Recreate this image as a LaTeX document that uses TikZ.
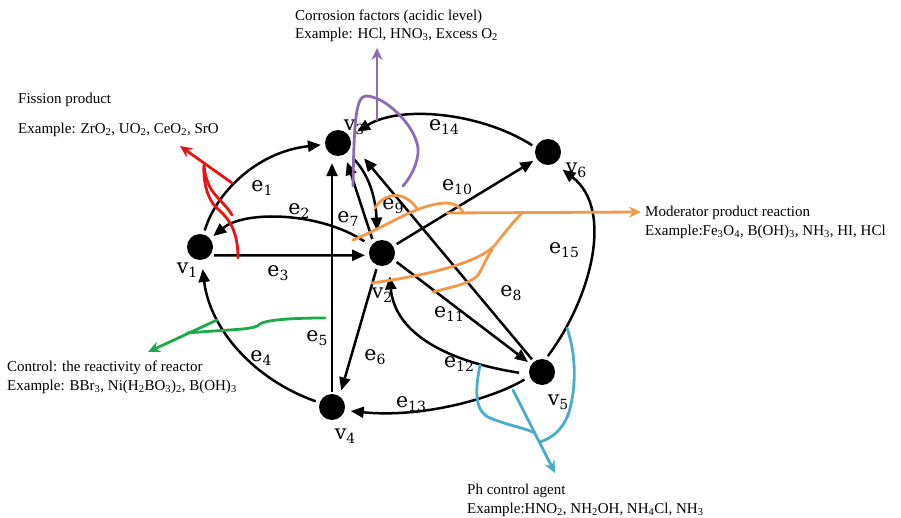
\documentclass[tikz,border=0pt]{standalone}
\usepackage{fontspec}
\setmainfont{Liberation Serif}
\newfontfamily\labfont{DejaVu Serif}
\usetikzlibrary{arrows.meta,calc}
\definecolor{cred}{RGB}{232,20,20}
\definecolor{cpur}{RGB}{142,108,180}
\definecolor{cora}{RGB}{242,152,72}
\definecolor{cgrn}{RGB}{26,170,74}
\definecolor{cblu}{RGB}{72,172,204}
\newcommand{\elab}[2]{{\labfont\fontsize{20.5}{22}\selectfont #1\raisebox{-0.35ex}{\fontsize{14}{15}\selectfont #2}}}
\newcommand{\chs}[1]{\textsubscript{#1}}
\begin{document}
\begin{tikzpicture}[x=1pt,y=-1pt,
  vert/.style={circle,fill=black,minimum size=26pt,inner sep=0pt},
  link/.style={line width=2.5pt,-{Triangle[length=13pt,width=11pt]},shorten >=4pt,shorten <=4pt},
  lab/.style={inner sep=0pt},
  ann/.style={line width=2.8pt,line cap=round,line join=round},
  annarr/.style={ann,-{Stealth[length=12pt,width=11pt]}},
  txt/.style={anchor=west,inner sep=0pt,font=\fontsize{15}{17}\selectfont}]
\useasboundingbox (0,0) rectangle (901,518);
\fill[white] (0,0) rectangle (901,518);
% vertices
\node[vert] (v1) at (200,247) {};
\node[vert] (v3) at (338,143) {};
\node[vert] (v6) at (548,152) {};
\node[vert] (v2) at (382,253) {};
\node[vert] (v4) at (332,407) {};
\node[vert] (v5) at (542,372) {};
% edges
\draw[link] (v1) .. controls (215,195) and (255,152) .. (v3);
\draw[link,shorten <=8pt] (v2) .. controls (320,212) and (245,210) .. (v1);
\draw[link] (v1.-40) -- (v2.190);
\draw[link,shorten >=9pt] (v4) .. controls (255,380) and (210,330) .. (v1);
\draw[link,shorten >=7pt,shorten <=2pt] (v4.north) -- (v4.north |- v3.south);
\draw[link,shorten >=6pt] (v2.250) -- (v4.55);
\draw[link,shorten >=8pt] (v2.130) -- (v3.-60);
\draw[link,shorten <=10pt,shorten >=10pt] (v3.-45) .. controls (372,178) and (376,205) .. (v2.110);
\draw[link,shorten >=20pt,shorten <=3pt] (v5.128) -- (v3.0);
\draw[link] (v2) -- (v6);
\draw[link] (v2.-30) -- (v5.145);
\draw[link,shorten <=10pt,shorten >=12pt] (v5.190) .. controls (450,362) and (395,335) .. (v2.-60);
\draw[link,shorten <=6pt,shorten >=6pt] (v5.200) .. controls (490,400) and (420,418) .. (v4.-15);
\draw[link,shorten >=9pt] (v6.160) .. controls (480,112) and (400,105) .. (v3.30);
\draw[link,shorten >=10pt] (v5.75) .. controls (590,300) and (615,210) .. (v6.-60);
% vertex labels
\node[lab] (lv1) at (187,270) {\elab{v}{1}};
\node[lab] (lv3) at (354,127) {\elab{v}{3}};
\node[lab] (lv6) at (576,170) {\elab{v}{6}};
\node[lab] (lv2) at (382,295) {\elab{v}{2}};
\node[lab] (lv4) at (345,436) {\elab{v}{4}};
\node[lab] (lv5) at (558,402) {\elab{v}{5}};
% edge labels
\node[lab] (le1) at (262,188) {\elab{e}{1}};
\node[lab] (le2) at (299,211) {\elab{e}{2}};
\node[lab] (le3) at (278,273) {\elab{e}{3}};
\node[lab] (le4) at (261,358) {\elab{e}{4}};
\node[lab] (le5) at (317,338) {\elab{e}{5}};
\node[lab] (le6) at (375,357) {\elab{e}{6}};
\node[lab] (le7) at (348,219) {\elab{e}{7}};
\node[lab] (le9) at (393,206) {\elab{e}{9}};
\node[lab] (le8) at (511,293) {\elab{e}{8}};
\node[lab] (le10) at (457,187) {\elab{e}{10}};
\node[lab] (le11) at (449,314) {\elab{e}{11}};
\node[lab] (le12) at (459,364) {\elab{e}{12}};
\node[lab] (le13) at (411,404) {\elab{e}{13}};
\node[lab] (le14) at (444,127) {\elab{e}{14}};
\node[lab] (le15) at (564,250) {\elab{e}{15}};
% red annotation
\draw[annarr,cred] (232,183) -- (180,146);
\draw[ann,cred] (238,258) .. controls (238,222) and (222,214) .. (214,205) .. controls (206,195) and (203,178) .. (204,165);
\draw[ann,cred] (204,166) .. controls (207,195) and (222,198) .. (232,215);
% purple annotation
\draw[annarr,cpur] (377,120) -- (377,48);
\draw[ann,cpur] (353,186) .. controls (354,120) and (356,96) .. (366,96) .. controls (385,96) and (415,125) .. (418,148) .. controls (419,163) and (410,178) .. (403,186);
% orange annotation
\draw[annarr,cora] (447,213) -- (641,212);
\draw[ann,cora] (353,240) .. controls (390,225) and (415,205) .. (445,203) .. controls (455,203) and (460,207) .. (463,212);
\draw[ann,cora] (375,208) .. controls (385,192) and (405,190) .. (418,210);
\draw[ann,cora] (372,283) .. controls (430,275) and (480,262) .. (495,245) .. controls (505,232) and (515,220) .. (522,213);
\draw[ann,cora] (433,292) .. controls (460,285) and (475,282) .. (480,272) .. controls (485,262) and (488,255) .. (492,250);
% green annotation
\draw[annarr,cgrn] (217,320) -- (148,352);
\draw[ann,cgrn] (325,318) .. controls (290,318) and (266,320) .. (260,324) .. controls (255,330) and (235,329) .. (187,333);
% blue annotation
\draw[annarr,cblu] (513,390) -- (555,473);
\draw[ann,cblu] (480,365) .. controls (474,395) and (476,412) .. (490,418) .. controls (510,426) and (525,428) .. (535,433);
\draw[ann,cblu] (567,328) .. controls (578,360) and (575,395) .. (568,415) .. controls (562,430) and (552,438) .. (540,442);
% annotation texts
\node[txt] (tf1) at (18,100) {Fission product};
\node[txt] (tf2) at (18,130) {Example: ZrO\chs{2}, UO\chs{2}, CeO\chs{2}, SrO};
\node[txt] (tc1) at (295,17) {Corrosion factors (acidic level)};
\node[txt] (tc2) at (295,35) {Example: HCl, HNO\chs{3}, Excess O\chs{2}};
\node[txt] (tm1) at (645,213) {Moderator product reaction};
\node[txt] (tm2) at (645,232) {Example:Fe\chs{3}O\chs{4}, B(OH)\chs{3}, NH\chs{3}, HI, HCl};
\node[txt] (tr1) at (7,368) {Control: the reactivity of reactor};
\node[txt] (tr2) at (7,387) {Example: BBr\chs{3}, Ni(H\chs{2}BO\chs{3})\chs{2}, B(OH)\chs{3}};
\node[txt] (tp1) at (467,491) {Ph control agent};
\node[txt] (tp2) at (467,510) {Example:HNO\chs{2}, NH\chs{2}OH, NH\chs{4}Cl, NH\chs{3}};
\end{tikzpicture}
\end{document}
